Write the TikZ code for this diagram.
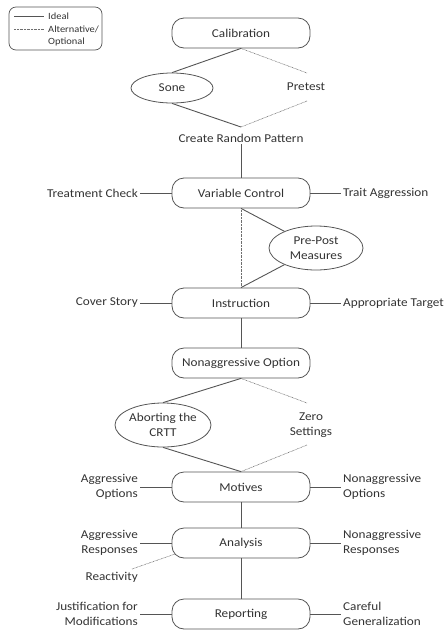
\documentclass[tikz,border=0pt]{standalone}
\usepackage{fontspec}
\setmainfont{Carlito}[FakeStretch=1.1]
\usetikzlibrary{shapes.geometric}
\definecolor{txt}{HTML}{333333}
\definecolor{ln}{HTML}{555555}
\begin{document}
\begin{tikzpicture}[x=1pt,y=-1pt,
  every node/.style={font=\fontsize{12}{15.5}\selectfont, text=txt},
  stagebox/.style={draw=ln, line width=0.8pt, rounded corners=12pt, minimum width=138pt, minimum height=30pt, fill=white},
  ell/.style={ellipse, draw=ln, line width=0.8pt, fill=white, inner sep=0pt, align=center},
  lbl/.style={inner sep=2pt},
  lt/.style={lbl, anchor=east, align=right},
  rt/.style={lbl, anchor=west, align=left},
  ideal/.style={draw=ln, line width=0.9pt},
  alt/.style={draw=ln!85, line width=0.6pt, dash pattern=on 0.7pt off 0.7pt},
  legtxt/.style={font=\fontsize{9.5}{11}\selectfont, anchor=west, inner sep=0pt}
]
\useasboundingbox (0,0) rectangle (446,630);

% legend
\node[draw=ln, line width=0.7pt, rounded corners=7pt, minimum width=93pt, minimum height=43pt] (leg) at (55.5,28.5) {};
\coordinate (l1a) at (14,16); \coordinate (l1b) at (44,16);
\coordinate (l2a) at (14,29); \coordinate (l2b) at (44,29);
\draw[ideal] (l1a) -- (l1b);
\draw[alt] (l2a) -- (l2b);
\node[legtxt] (lg1) at (48,16) {Ideal};
\node[legtxt] (lg2) at (48,29) {Alternative/};
\node[legtxt] (lg3) at (48,42) {Optional};

% main nodes
\node[stagebox] (cal) at (241,33) {Calibration};
\node[ell, minimum width=82pt, minimum height=30pt] (sone) at (172,88) {Sone};
\node[lbl] (pre) at (306,87) {Pretest};
\coordinate (pretop) at (307,73);
\coordinate (prebot) at (307,101);
\node[lbl] (crp) at (241,138) {Create Random Pattern};
\coordinate (crptop) at (241,127);

\node[stagebox] (vc) at (241,193) {Variable Control};
\node[lt] (tc) at (140,193) {Treatment Check};
\node[rt] (ta) at (341,193) {Trait Aggression};
\node[ell, minimum width=94pt, minimum height=44pt] (pp) at (316,248) {Pre-Post\\Measures};

\node[stagebox] (ins) at (241,303) {Instruction};
\node[lt] (cs) at (140,303) {Cover Story};
\node[rt] (at) at (341,303) {Appropriate Target};

\node[stagebox] (no) at (241,363) {Nonaggressive Option};
\node[ell, minimum width=96pt, minimum height=44pt] (ab) at (163,425) {Aborting the\\CRTT};
\node[lbl, align=center] (zs) at (311,425) {Zero\\Settings};
\coordinate (zstop) at (307,403);
\coordinate (zsbot) at (307,445);

\node[stagebox] (mo) at (241,487) {Motives};
\node[lt] (ao) at (140,487) {Aggressive\\Options};
\node[rt] (nao) at (341,487) {Nonaggressive\\Options};

\node[stagebox] (an) at (241,543) {Analysis};
\node[lt] (ar) at (140,543) {Aggressive\\Responses};
\node[rt] (nar) at (341,543) {Nonaggressive\\Responses};
\node[lt] (re) at (140,577) {Reactivity};
\coordinate (retop) at (132,569);
\coordinate (anbl) at (175,554);

\node[stagebox] (rep) at (241,614) {Reporting};
\node[lt] (jm) at (140,614) {Justification for\\Modifications};
\node[rt] (cg) at (341,614) {Careful\\Generalization};

% connectors
\draw[ideal] (cal.south) -- (sone.north);
\draw[ideal] (sone.south) -- (crptop);
\draw[alt] (cal.south) -- (pretop);
\draw[alt] (prebot) -- (crptop);
\draw[ideal] (crp.south) -- (vc.north);
\draw[ideal] (tc.east) -- (vc.west);
\draw[ideal] (vc.east) -- (ta.west);
\draw[alt] (vc.south) -- (ins.north);
\draw[ideal] (vc.south) -- (pp);
\draw[ideal] (pp) -- (ins.north);
\draw[ideal] (cs.east) -- (ins.west);
\draw[ideal] (ins.east) -- (at.west);
\draw[ideal] (ins.south) -- (no.north);
\draw[ideal] (no.south) -- (ab.north);
\draw[alt] (no.south) -- (zstop);
\draw[ideal] (ab.south) -- (mo.north);
\draw[alt] (zsbot) -- (mo.north);
\draw[ideal] (ao.east) -- (mo.west);
\draw[ideal] (mo.east) -- (nao.west);
\draw[ideal] (mo.south) -- (an.north);
\draw[ideal] (ar.east) -- (an.west);
\draw[ideal] (an.east) -- (nar.west);
\draw[alt] (retop) -- (anbl);
\draw[ideal] (an.south) -- (rep.north);
\draw[ideal] (jm.east) -- (rep.west);
\draw[ideal] (rep.east) -- (cg.west);
\end{tikzpicture}
\end{document}
